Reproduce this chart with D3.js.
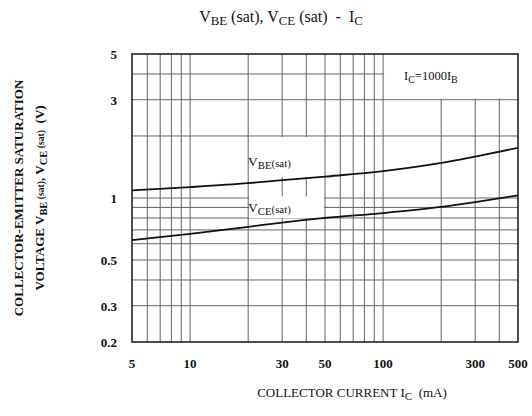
<!DOCTYPE html>
<html>
<head>
<meta charset="utf-8">
<script src="https://cdn.jsdelivr.net/npm/d3@7"></script>
<style>
  body { margin: 0; background: #fff; }
  text { font-family: "Liberation Serif", "Times New Roman", serif; fill: #111; white-space: pre; }
</style>
</head>
<body>
<div id="chart"></div>
<script>
// data
const currents = [5, 10, 20, 30, 50, 100, 200, 300, 500];           // mA
const vbeSat   = [1.09, 1.13, 1.18, 1.22, 1.27, 1.35, 1.48, 1.59, 1.75];
const vceSat   = [0.625, 0.67, 0.725, 0.76, 0.80, 0.845, 0.905, 0.955, 1.03];

const xTicks = [5, 10, 30, 50, 100, 300, 500];
const yTicks = [0.2, 0.3, 0.5, 1, 3, 5];
const xGrid = [6, 7, 8, 9, 10, 20, 30, 40, 50, 60, 70, 80, 90, 100, 200, 300, 400];
const yGrid = [0.3, 0.4, 0.5, 0.6, 0.7, 0.8, 0.9, 1, 2, 3, 4];

const width = 532, height = 416;
const margin = { left: 132, right: 14, top: 54, bottom: 74 };

const svg = d3.select("#chart").append("svg")
    .attr("width", width)
    .attr("height", height);

const x = d3.scaleLog().domain([5, 500]).range([margin.left, width - margin.right]);
const y = d3.scaleLog().domain([0.2, 5]).range([height - margin.bottom, margin.top]);

// grid
const grid = svg.append("g").attr("stroke", "#666").attr("stroke-width", 1);
grid.selectAll(".vg").data(xGrid).enter().append("line")
    .attr("x1", d => x(d)).attr("x2", d => x(d))
    .attr("y1", y(5)).attr("y2", y(0.2));
grid.selectAll(".hg").data(yGrid).enter().append("line")
    .attr("x1", x(5)).attr("x2", x(500))
    .attr("y1", d => y(d)).attr("y2", d => y(d));

// white boxes behind the labels
const boxes = [
  { x0: 100, x1: 500, y0: 5, y1: 3 },
  { x0: 20, x1: 50, y0: 2, y1: 1.25 },
  { x0: 20, x1: 50, y0: 1.03, y1: 0.79 }
];
svg.append("g").selectAll("rect").data(boxes).enter().append("rect")
    .attr("x", d => x(d.x0) + 1)
    .attr("y", d => y(d.y0) + 1)
    .attr("width", d => x(d.x1) - x(d.x0) - 2)
    .attr("height", d => y(d.y1) - y(d.y0) - 2)
    .attr("fill", "#fff");

// frame
svg.append("rect")
    .attr("x", x(5)).attr("y", y(5))
    .attr("width", x(500) - x(5)).attr("height", y(0.2) - y(5))
    .attr("fill", "none").attr("stroke", "#222").attr("stroke-width", 1.6);

// curves
const line = d3.line()
    .x(d => x(d[0]))
    .y(d => y(d[1]))
    .curve(d3.curveMonotoneX);

[vbeSat, vceSat].forEach(series => {
  svg.append("path")
      .datum(currents.map((c, i) => [c, series[i]]))
      .attr("d", line)
      .attr("fill", "none")
      .attr("stroke", "#111")
      .attr("stroke-width", 1.8);
});

// tick labels
svg.append("g").selectAll("text").data(xTicks).enter().append("text")
    .attr("x", d => x(d))
    .attr("y", 368)
    .attr("text-anchor", "middle")
    .attr("font-size", 13)
    .attr("font-weight", "bold")
    .text(d => d);

svg.append("g").selectAll("text").data(yTicks).enter().append("text")
    .attr("x", 117)
    .attr("y", d => y(d) + 5)
    .attr("text-anchor", "end")
    .attr("font-size", 13)
    .attr("font-weight", "bold")
    .text(d => d);

// text made of parts: [text, size factor, dy]
function rich(sel, parts, size) {
  parts.forEach(p => {
    sel.append("tspan")
        .attr("font-size", size * (p[1] || 1))
        .attr("dy", p[2] || 0)
        .text(p[0]);
  });
  return sel;
}

// title
rich(svg.append("text").attr("x", 281).attr("y", 22).attr("text-anchor", "middle"),
  [["V"], ["BE", 0.8, 3], [" (sat), V", 1, -3], ["CE", 0.8, 3], [" (sat)  -  I", 1, -3], ["C", 0.8, 3]], 16);

// curve labels
rich(svg.append("text").attr("x", 248).attr("y", 166),
  [["V"], ["BE", 0.8, 3], ["(sat)", 0.8, -2]], 13.5);
rich(svg.append("text").attr("x", 248).attr("y", 212),
  [["V"], ["CE", 0.8, 3], ["(sat)", 0.8, -2]], 13.5);
rich(svg.append("text").attr("x", 404).attr("y", 80),
  [["I"], ["C", 0.8, 3], ["=1000I", 1, -3], ["B", 0.8, 3]], 12.5);

// axis titles
rich(svg.append("text").attr("x", 352).attr("y", 397).attr("text-anchor", "middle"),
  [["COLLECTOR CURRENT I"], ["C", 0.85, 3], ["  (mA)", 1, -3]], 13);

const yt = svg.append("g").attr("transform", "translate(0,198) rotate(-90)");
yt.append("text").attr("x", 0).attr("y", 23).attr("text-anchor", "middle")
    .attr("font-size", 13).attr("font-weight", "bold")
    .text("COLLECTOR-EMITTER SATURATION");
rich(yt.append("text").attr("x", 0).attr("y", 44).attr("text-anchor", "middle")
        .attr("font-weight", "bold"),
  [["VOLTAGE V"], ["BE", 0.8, 3], [" (sat)", 0.75, -3], [", V"], ["CE", 0.8, 3], [" (sat)", 0.75, -3], ["  (V)"]], 13);
</script>
</body>
</html>
